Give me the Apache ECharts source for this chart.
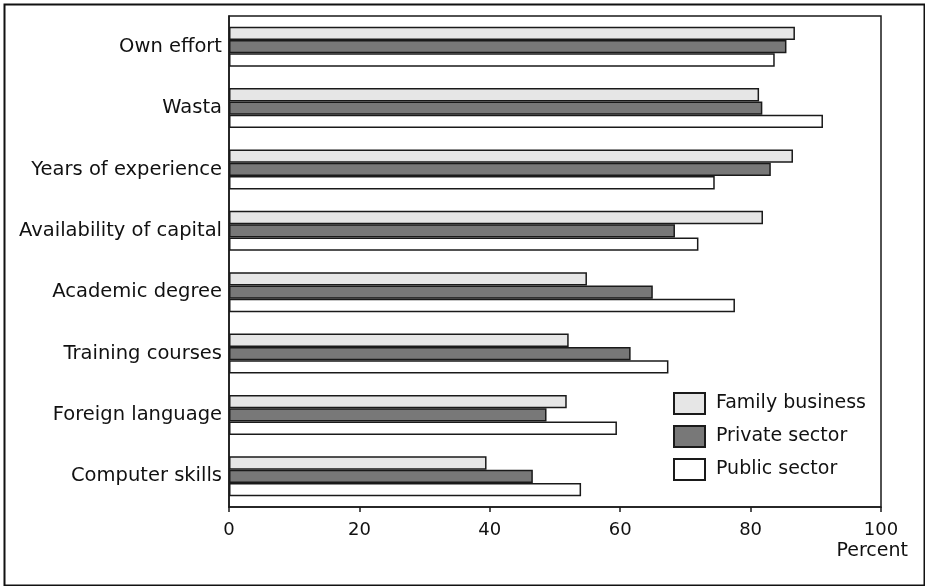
<!DOCTYPE html>
<html>
<head>
<meta charset="utf-8">
<script src="https://cdn.jsdelivr.net/npm/echarts@6/dist/echarts.min.js"></script>
<style>
html,body{margin:0;padding:0;background:#fff;}
#chart{width:925px;height:586px;}
</style>
</head>
<body>
<div id="chart"></div>
<script>
const categories = ["Own effort","Wasta","Years of experience","Availability of capital","Academic degree","Training courses","Foreign language","Computer skills"];
const familyBusiness = [86.8, 81.3, 86.5, 81.9, 54.9, 52.1, 51.8, 39.5];
const privateSector = [85.5, 81.8, 83.1, 68.4, 65.0, 61.6, 48.7, 46.6];
const publicSector = [83.7, 91.1, 74.5, 72.0, 77.6, 67.4, 59.5, 54.0];
const seriesNames = ["Family business","Private sector","Public sector"];
const xTicks = [0, 20, 40, 60, 80, 100];

const FONT = "DejaVu Sans";
const chart = echarts.init(document.getElementById('chart'), null, {renderer:'canvas'});
const barStyle = (c) => ({color:c, borderColor:'#1a1a1a', borderWidth:1.5});
chart.setOption({
  animation:false,
  backgroundColor:'#fff',
  textStyle:{fontFamily:FONT},
  grid:{left:229, top:16, right:44, bottom:79, show:true, borderColor:'#1a1a1a', borderWidth:1.5, backgroundColor:'transparent'},
  legend:{
    orient:'vertical', left:673, top:392, padding:0,
    itemWidth:31, itemHeight:21, itemGap:10,
    textStyle:{fontFamily:FONT, fontSize:19, color:'#111', padding:[0,0,0,6]},
    data:seriesNames.map(n=>({name:n, icon:'rect'}))
  },
  xAxis:{
    type:'value', min:xTicks[0], max:xTicks[xTicks.length-1], interval:20,
    axisLine:{show:true, lineStyle:{color:'#1a1a1a', width:1.5}},
    axisTick:{show:true, length:5, lineStyle:{color:'#1a1a1a', width:1.5}},
    splitLine:{show:false},
    axisLabel:{fontFamily:FONT, fontSize:18, color:'#111', margin:14}
  },
  yAxis:{
    type:'category', data:categories, inverse:true,
    axisLine:{show:true, lineStyle:{color:'#1a1a1a', width:1.5}},
    axisTick:{show:false},
    axisLabel:{fontFamily:FONT, fontSize:19.5, color:'#111', margin:7}
  },
  series:[
    {name:seriesNames[0], type:'bar', data:familyBusiness, barWidth:13.3, barGap:'0%', itemStyle:barStyle('#e6e6e6')},
    {name:seriesNames[1], type:'bar', data:privateSector, barWidth:13.3, barGap:'0%', itemStyle:barStyle('#787878')},
    {name:seriesNames[2], type:'bar', data:publicSector, barWidth:13.3, barGap:'0%', itemStyle:barStyle('#ffffff')}
  ],
  graphic:[
    {type:'rect', left:2, top:2, shape:{x:0,y:0,width:920,height:581}, style:{fill:'none', stroke:'#111', lineWidth:2}, silent:true},
    {type:'text', x:908, y:542, style:{text:'Percent', font:'19px "DejaVu Sans"', fill:'#111', align:'right', verticalAlign:'top'}}
  ]
});
</script>
</body>
</html>
